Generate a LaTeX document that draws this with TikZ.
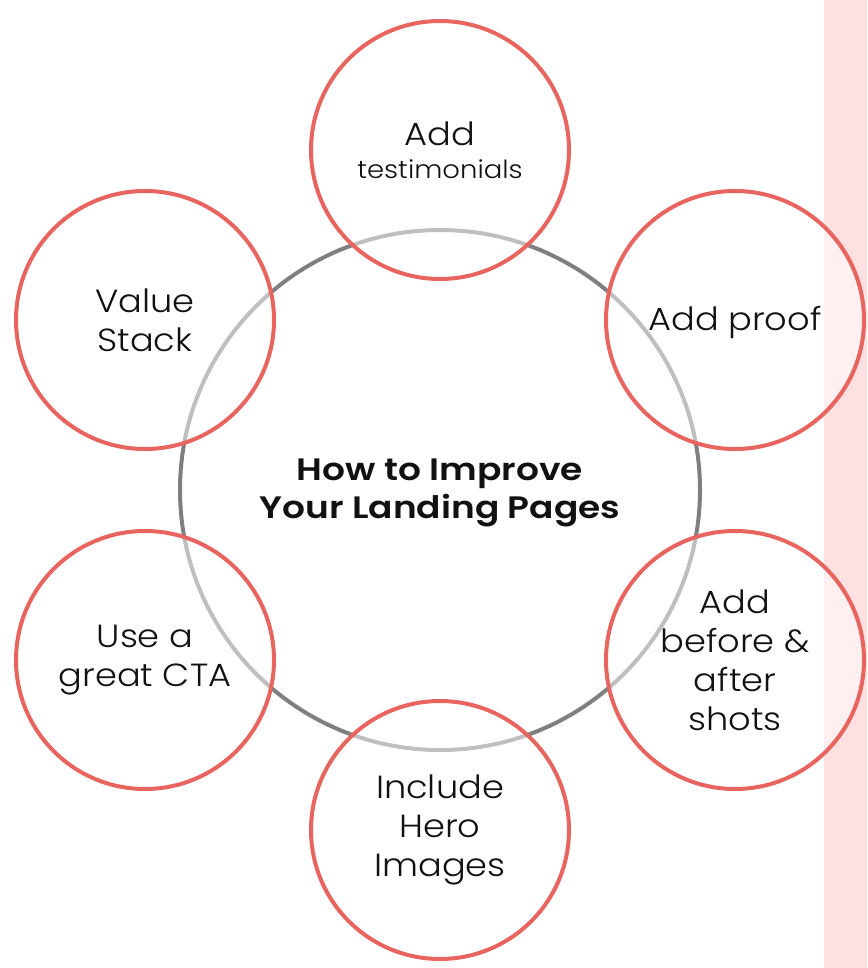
\documentclass[tikz,border=0pt]{standalone}
\usepackage{fontspec}
\setmainfont{Poppins}
\newfontfamily\lightfont{Poppins Light}[FakeStretch=1.1]
\newfontfamily\boldfont{Poppins SemiBold}[FakeStretch=1.16]
\definecolor{ringred}{HTML}{E8655F}
\definecolor{darkgray}{HTML}{7F7F7F}
\definecolor{stripPink}{HTML}{FFE0E1}
\definecolor{ink}{HTML}{111111}
\begin{document}
\begin{tikzpicture}[x=1pt,y=-1pt,
  hub/.style={circle,draw=darkgray,line width=4pt,minimum size=520pt,inner sep=0pt},
  bubble/.style={circle,draw=ringred,line width=4pt,fill=white,fill opacity=0.5,text opacity=1,
     minimum size=258pt,inner sep=0pt,align=center,text=ink,font=\lightfont\fontsize{32}{39}\selectfont},
  title/.style={align=center,text=ink,font=\boldfont\fontsize{31}{38}\selectfont}]
\useasboundingbox (0,0) rectangle (867,968);
\fill[stripPink] (824,0) rectangle (867,968);
\node[hub] (hub) at (440,490) {};
\node[bubble] (top) at (440,150) {Add\\[-6pt]{\fontsize{25}{28}\selectfont testimonials}};
\node[bubble] (ur) at (735,320) {\raisebox{-3pt}[\height][\depth]{Add proof}};
\node[bubble] (lr) at (735,660) {Add\\before \&\\after\\shots};
\node[bubble] (bot) at (440,830) {Include\\Hero\\Images};
\node[bubble] (ll) at (145,660) {Use a\\great CTA};
\node[bubble] (ul) at (145,320) {Value\\Stack};
\node[title] (t) at (440,493) {How to Improve\\Your Landing Pages};
\end{tikzpicture}
\end{document}
